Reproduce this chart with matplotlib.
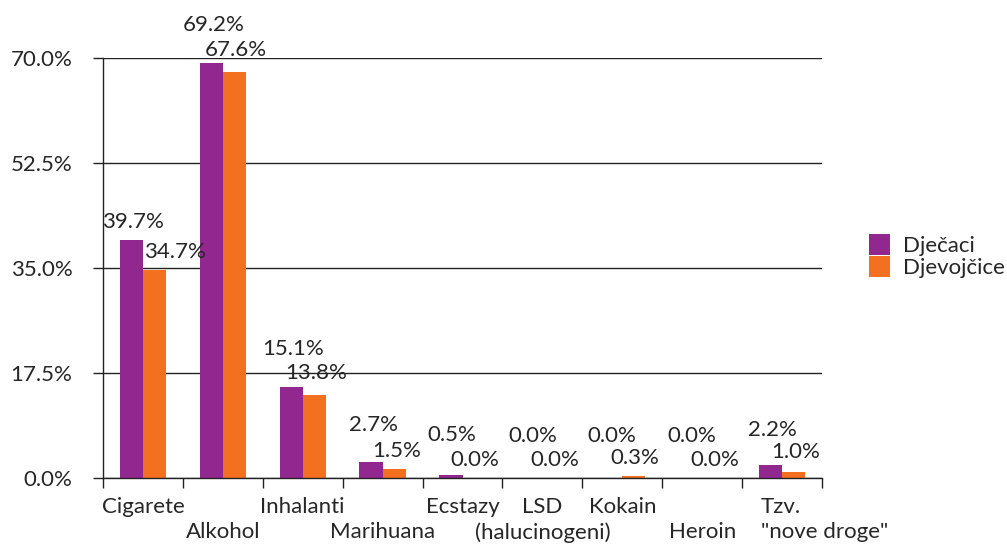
import matplotlib
matplotlib.use("Agg")
import matplotlib.pyplot as plt
import matplotlib.transforms as mtransforms
from matplotlib.patches import Patch
import numpy as np

categories = ["Cigarete", "Alkohol", "Inhalanti", "Marihuana", "Ecstazy",
              "LSD\n(halucinogeni)", "Kokain", "Heroin", "Tzv.\n\"nove droge\""]
series_names = ["Dječaci", "Djevojčice"]
boys = [39.7, 69.2, 15.1, 2.7, 0.5, 0.0, 0.0, 0.0, 2.2]
girls = [34.7, 67.6, 13.8, 1.5, 0.0, 0.0, 0.3, 0.0, 1.0]
yticks = [0.0, 17.5, 35.0, 52.5, 70.0]

PURPLE = "#92278F"
ORANGE = "#F37021"
TXT = "#262626"
FONT = "Lato"
WEIGHT = "normal"
FS = 16

plt.rcParams["font.family"] = [FONT, "DejaVu Sans"]

fig = plt.figure(figsize=(10.07, 5.47), dpi=100)
ax = fig.add_axes([103 / 1007, 1 - 478 / 547, (822 - 103) / 1007, (478 - 58) / 547])

n = len(categories)
x = np.arange(n) + 0.5
w = 0.29
ax.bar(x - w / 2, boys, width=w, color=PURPLE, zorder=3, label=series_names[0])
ax.bar(x + w / 2, girls, width=w, color=ORANGE, zorder=3, label=series_names[1])

ax.set_xlim(0, n)
ax.set_ylim(0, 70)

# gridlines
ax.set_yticks(yticks)
ax.set_yticklabels([f"{v:.1f}%" for v in yticks], fontsize=FS, color=TXT,
                   fontweight=WEIGHT)
ax.yaxis.grid(True, color="#222222", linewidth=1.0, zorder=0)
ax.tick_params(axis="y", length=7, width=1, color="#222222", pad=15, direction="out")

for s in ["top", "right"]:
    ax.spines[s].set_visible(False)
for s in ["left", "bottom"]:
    ax.spines[s].set_color("#222222")
    ax.spines[s].set_linewidth(1.0)
    ax.spines[s].set_zorder(4)

# category boundaries as tick marks
ax.set_xticks(np.arange(n + 1), minor=True)
ax.tick_params(axis="x", which="minor", length=7, width=1, color="#222222", direction="out")
ax.set_xticks(x)
labels = []
for i, c in enumerate(categories):
    if i % 2 == 1 and "\n" not in c:
        labels.append("\n" + c)
    else:
        labels.append(c)
ax.set_xticklabels(labels, fontsize=FS, color=TXT, fontweight=WEIGHT, linespacing=1.3)
ax.tick_params(axis="x", which="major", length=0, pad=14)
last = ax.get_xticklabels()[-1]
last.set_horizontalalignment("left")
last.set_multialignment("left")
last.set_transform(last.get_transform() + mtransforms.ScaledTranslation(-0.21, 0, fig.dpi_scale_trans))

# value labels (offsets in pixels)
boy_dx = [2, 2, 2, 2, 1, 2, 1, 1, 2]
boy_dy = [18, 38, 38, 37, 40, 42, 42, 42, 35]
girl_dx = [20, 1, 2, 2, 1, 1, 1, 1, 2]
girl_dy = [18, 22, 22, 18, 18, 18, 18, 18, 20]
for i in range(n):
    ax.annotate(f"{boys[i]:.1f}%", (x[i] - w / 2, boys[i]), xytext=(boy_dx[i], boy_dy[i]),
                textcoords="offset pixels", ha="center", va="center",
                fontsize=FS, color=TXT, fontweight=WEIGHT, zorder=5)
    ax.annotate(f"{girls[i]:.1f}%", (x[i] + w / 2, girls[i]), xytext=(girl_dx[i], girl_dy[i]),
                textcoords="offset pixels", ha="center", va="center",
                fontsize=FS, color=TXT, fontweight=WEIGHT, zorder=5)

handles = [Patch(facecolor=PURPLE), Patch(facecolor=ORANGE)]
leg = fig.legend(handles, series_names, loc="center left",
                 bbox_to_anchor=(869 / 1007, 1 - 256 / 547), frameon=False,
                 prop={"family": [FONT, "DejaVu Sans"], "size": FS, "weight": WEIGHT},
                 handlelength=0.95, handleheight=1.1, handletextpad=0.6,
                 labelspacing=0.0, borderpad=0.0, borderaxespad=0.0)
for t in leg.get_texts():
    t.set_color(TXT)

fig.savefig("out.png", dpi=100)
